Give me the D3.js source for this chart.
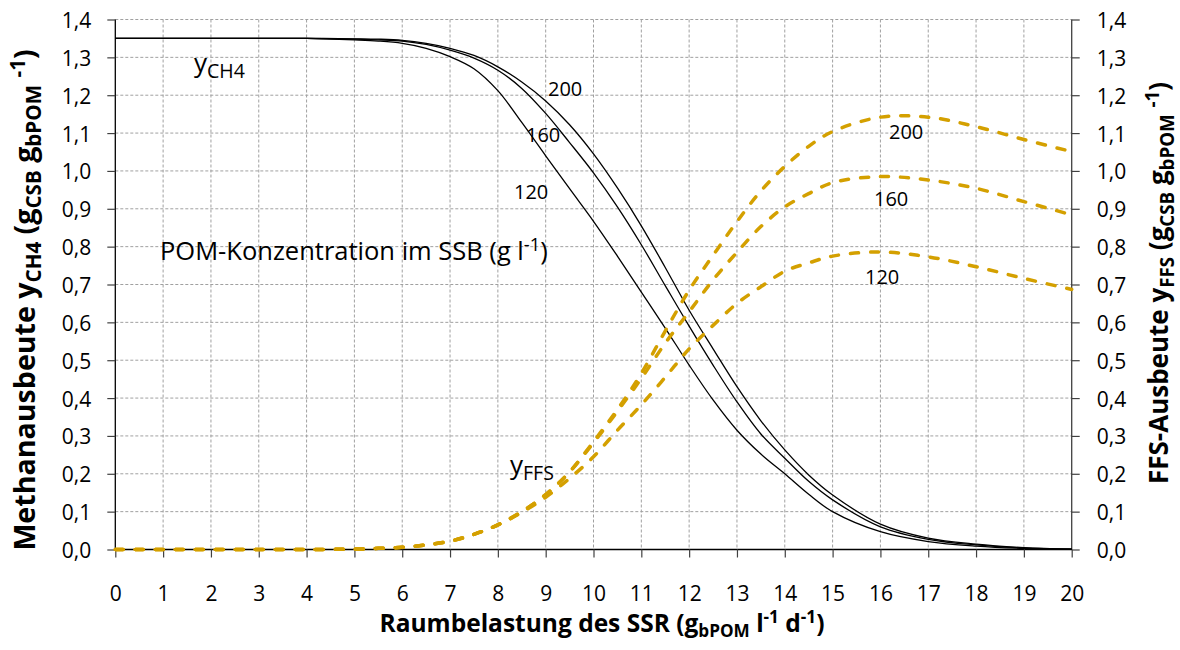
<!DOCTYPE html>
<html><head><meta charset="utf-8">
<script src="https://cdn.jsdelivr.net/npm/d3@7"></script>
<style>
html,body{margin:0;padding:0;background:#fff;}
text{font-family:"Open Sans",sans-serif;fill:#000;}
</style></head>
<body><svg id="chart" width="1180" height="650"></svg>
<script>
// ---- data ----
const loadRates = [0,1,2,3,4,5,5.5,6,6.5,7,7.5,8,8.5,9,9.5,10,10.5,11,11.5,12,12.5,13,13.5,14,14.5,15,16,17,18,19,20];
const concentrations = ["120","160","200"];
const ch4_120 = [1.35,1.35,1.35,1.35,1.35,1.346,1.343,1.337,1.324,1.302,1.27,1.212,1.128,1.04,0.953,0.867,0.775,0.68,0.585,0.487,0.395,0.315,0.252,0.2,0.146,0.1,0.047,0.021,0.009,0.003,0.001];
const ch4_160 = [1.35,1.35,1.35,1.35,1.35,1.348,1.346,1.343,1.334,1.319,1.298,1.266,1.218,1.152,1.075,0.995,0.905,0.805,0.697,0.59,0.487,0.39,0.305,0.241,0.18,0.131,0.06,0.027,0.012,0.004,0.001];
const ch4_200 = [1.35,1.35,1.35,1.35,1.35,1.349,1.348,1.345,1.337,1.324,1.305,1.275,1.235,1.185,1.122,1.045,0.955,0.855,0.745,0.632,0.53,0.43,0.34,0.263,0.197,0.144,0.067,0.03,0.014,0.005,0.001];
const ffs_120 = [0,0,0,0,0,0.001,0.003,0.006,0.012,0.022,0.04,0.065,0.098,0.138,0.188,0.245,0.315,0.382,0.455,0.53,0.592,0.65,0.694,0.735,0.757,0.775,0.786,0.773,0.747,0.716,0.687];
const ffs_160 = [0,0,0,0,0,0.001,0.003,0.006,0.012,0.022,0.04,0.065,0.1,0.145,0.205,0.282,0.365,0.452,0.545,0.628,0.712,0.785,0.853,0.905,0.94,0.969,0.985,0.976,0.954,0.919,0.884];
const ffs_200 = [0,0,0,0,0,0.001,0.003,0.006,0.012,0.022,0.04,0.065,0.1,0.145,0.205,0.285,0.37,0.465,0.577,0.685,0.777,0.866,0.947,1.012,1.065,1.104,1.142,1.142,1.117,1.083,1.051];
const xTicks = [0,1,2,3,4,5,6,7,8,9,10,11,12,13,14,15,16,17,18,19,20];
const yTicks = [0,0.1,0.2,0.3,0.4,0.5,0.6,0.7,0.8,0.9,1.0,1.1,1.2,1.3,1.4];

// ---- layout ----
const svg = d3.select("#chart");
const L = 115.3, R = 1071.7, T = 19.5, B = 549.5;
const x = d3.scaleLinear().domain([0,20]).range([L,R]);
const y = d3.scaleLinear().domain([0,1.4]).range([B,T]);
const fmt = v => d3.format(".1f")(v).replace(".", ",");

svg.append("rect").attr("width",1180).attr("height",650).attr("fill","#fff");

// grid
const grid = svg.append("g");
grid.selectAll("line.v").data(xTicks.filter(d=>d>0 && d<20)).join("line")
  .attr("x1",d=>x(d)).attr("x2",d=>x(d)).attr("y1",T).attr("y2",B)
  .attr("stroke","#a0a0a0").attr("stroke-width",1).attr("stroke-dasharray","3,2");
grid.selectAll("line.h").data(yTicks.filter(d=>d>0)).join("line")
  .attr("y1",d=>y(d)).attr("y2",d=>y(d)).attr("x1",L).attr("x2",R)
  .attr("stroke","#a0a0a0").attr("stroke-width",1).attr("stroke-dasharray","3,2");

// axes
const axL = svg.append("g").attr("transform",`translate(${L},0)`)
  .call(d3.axisLeft(y).tickValues(yTicks).tickSize(8).tickFormat(fmt));
const axR = svg.append("g").attr("transform",`translate(${R},0)`)
  .call(d3.axisRight(y).tickValues(yTicks).tickSize(8).tickFormat(fmt));
const axB = svg.append("g").attr("transform",`translate(0,${B})`)
  .call(d3.axisBottom(x).tickValues(xTicks).tickSize(8).tickFormat(d3.format("d")));
[axL,axR,axB].forEach(a=>{
  a.select(".domain").attr("stroke","#000").attr("stroke-width",1.3);
  a.selectAll(".tick line").attr("stroke","#404040").attr("stroke-width",1.2);
  a.selectAll(".tick text").attr("font-family","Open Sans").attr("font-size",21).attr("fill","#000");
});
axL.select(".domain").attr("d",`M0,${T}V${B}`);
axR.select(".domain").attr("d",`M0,${T}V${B}`).attr("stroke","#404040");
axB.select(".domain").attr("d",`M${L},0H${R}`);
axL.selectAll(".tick text").attr("x",-24).attr("dy",null).attr("y",8);
axR.selectAll(".tick text").attr("x",25).attr("dy",null).attr("y",8);
axB.selectAll(".tick text").attr("y",51).attr("dy",null);

// lines
const line = d3.line().x((d,i)=>x(loadRates[i])).y(d=>y(d)).curve(d3.curveCatmullRom.alpha(0.5));
[ch4_120,ch4_160,ch4_200].forEach(s=>{
  svg.append("path").attr("d",line(s)).attr("fill","none").attr("stroke","#000").attr("stroke-width",1.3);
});
[ffs_120,ffs_160,ffs_200].forEach(s=>{
  svg.append("path").attr("d",line(s)).attr("fill","none").attr("stroke","#D4A000")
    .attr("stroke-width",3.5).attr("stroke-dasharray","8,12").attr("stroke-linecap","round");
});

// in-plot labels
const lab = (tx,ty,t,fs) => svg.append("text").attr("x",tx).attr("y",ty).attr("font-size",fs||20).text(t);
lab(548,96,concentrations[2]); lab(526,142,concentrations[1]); lab(514,199,concentrations[0]);
lab(889,139,concentrations[2]); lab(874,206,concentrations[1]); lab(865,284,concentrations[0]);

function subText(tx,ty,parts,fs,attrs,ratio){
  ratio = ratio || 0.72;
  const t = svg.append("text").attr("x",tx).attr("y",ty).attr("font-size",fs);
  if(attrs) Object.entries(attrs).forEach(([k,v])=>t.attr(k,v));
  let shift = 0;
  parts.forEach(p=>{
    const ts = t.append("tspan").text(p.t);
    const target = p.sub ? fs*0.22 : (p.sup ? -fs*0.35 : 0);
    if(target!==shift){ ts.attr("dy",target-shift); shift=target; }
    if(p.sub||p.sup) ts.attr("font-size",fs*ratio);
  });
  return t;
}
subText(194,72,[{t:"y"},{t:"CH4",sub:true}],26,null,0.75);
subText(510,474,[{t:"y"},{t:"FFS",sub:true}],26,null,0.75);
subText(160,260,[{t:"POM-Konzentration im SSB (g l"},{t:"-1",sup:true},{t:")"}],25.5);

// axis titles
subText(602,632,[{t:"Raumbelastung des SSR (g"},{t:"bPOM",sub:true},{t:" l"},{t:"-1",sup:true},{t:" d"},{t:"-1",sup:true},{t:")"}],24.5,
  {"text-anchor":"middle","font-weight":"bold"},0.7);
subText(0,0,[{t:"Methanausbeute y"},{t:"CH4",sub:true},{t:" (g"},{t:"CSB",sub:true},{t:" g"},{t:"bPOM",sub:true},{t:" "},{t:"-1",sup:true},{t:")"}],28.6,
  {"text-anchor":"middle","font-weight":"bold","transform":"translate(35,300) rotate(-90)"},0.72);
subText(0,0,[{t:"FFS-Ausbeute y"},{t:"FFS",sub:true},{t:" (g"},{t:"CSB",sub:true},{t:" g"},{t:"bPOM",sub:true},{t:" "},{t:"-1",sup:true},{t:")"}],26,
  {"text-anchor":"middle","font-weight":"bold","transform":"translate(1168,283) rotate(-90)"},0.72);
</script></body></html>
